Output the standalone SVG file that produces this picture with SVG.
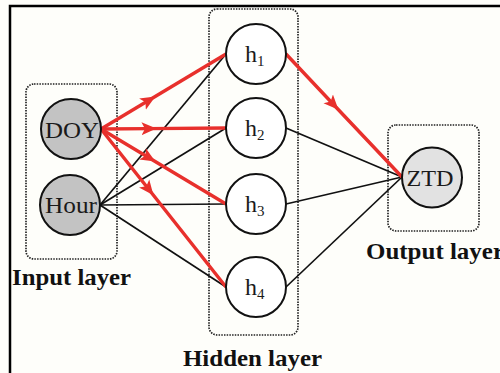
<svg xmlns="http://www.w3.org/2000/svg" width="500" height="373" viewBox="0 0 500 373">
<style>
.box{fill:none;stroke:#222;stroke-width:1.7;stroke-dasharray:1.5 1.2}
.blk{fill:none;stroke:#111;stroke-width:1.7}
.red{fill:none;stroke:#e8302c;stroke-width:3.4;marker-mid:url(#arr)}
.node{stroke:#111;stroke-width:2}
.in{fill:#c3c3c3}
.hid{fill:#ffffff}
.out{fill:#e2e2e2}
.lbl{font-family:"Liberation Serif","Times New Roman",serif;font-size:24px;fill:#1a1a1a}
.sub{font-family:"Liberation Serif","Times New Roman",serif;font-size:15px;fill:#1a1a1a}
.cap{font-family:"Liberation Serif","Times New Roman",serif;font-size:23px;font-weight:bold;fill:#111}
</style>
<defs>
<marker id="arr" markerUnits="userSpaceOnUse" markerWidth="16" markerHeight="14" refX="7" refY="7" orient="auto">
<path d="M0,0.5 L15,7 L0,13.5 L3.5,7 z" fill="#e8302c"/>
</marker>
</defs>
<rect x="0" y="0" width="500" height="373" fill="#fefefa"/>
<rect x="10" y="6" width="500" height="380" fill="none" stroke="#000" stroke-width="2.5"/>
<g id="layers">
<rect class="box" x="26" y="84" width="91" height="175" rx="8"/>
<rect class="box" x="209" y="9" width="89" height="326" rx="8"/>
<rect class="box" x="388" y="125" width="91" height="106" rx="8"/>
</g>
<g id="connectors">
<line class="blk" x1="100" y1="205" x2="226" y2="54"/>
<line class="blk" x1="100" y1="205" x2="226" y2="128"/>
<line class="blk" x1="100" y1="205" x2="226" y2="204"/>
<line class="blk" x1="100" y1="205" x2="226" y2="287"/>
<line class="blk" x1="286" y1="128" x2="402" y2="177"/>
<line class="blk" x1="286" y1="204" x2="402" y2="177"/>
<line class="blk" x1="286" y1="287" x2="402" y2="177"/>
<polyline class="red" points="101,129 148.5,100.5 226,54"/>
<polyline class="red" points="101,129 148.5,128.6 226,128"/>
<polyline class="red" points="101,129 148.5,157.5 226,204"/>
<polyline class="red" points="101,129 148.5,189 226,287"/>
<polyline class="red" points="286,54 333,104 402,177"/>
</g>
<g id="DOY"><circle class="node in" cx="71" cy="129" r="30"/><text class="lbl" x="72" y="138" text-anchor="middle" textLength="54" lengthAdjust="spacingAndGlyphs">DOY</text></g>
<g id="Hour"><circle class="node in" cx="70" cy="205" r="30"/><text class="lbl" x="71" y="213" text-anchor="middle" textLength="52" lengthAdjust="spacingAndGlyphs">Hour</text></g>
<g id="h1"><circle class="node hid" cx="256" cy="54" r="30"/><text class="lbl" x="245" y="62">h<tspan class="sub" dy="4">1</tspan></text></g>
<g id="h2"><circle class="node hid" cx="256" cy="128" r="30"/><text class="lbl" x="245" y="136">h<tspan class="sub" dy="4">2</tspan></text></g>
<g id="h3"><circle class="node hid" cx="256" cy="204" r="30"/><text class="lbl" x="245" y="212">h<tspan class="sub" dy="4">3</tspan></text></g>
<g id="h4"><circle class="node hid" cx="256" cy="287" r="30"/><text class="lbl" x="245" y="295">h<tspan class="sub" dy="4">4</tspan></text></g>
<g id="ZTD"><circle class="node out" cx="432" cy="177.5" r="30"/><text class="lbl" x="430" y="185.5" text-anchor="middle" textLength="47" lengthAdjust="spacingAndGlyphs">ZTD</text></g>
<g id="labels">
<text class="cap" x="12" y="285" textLength="119" lengthAdjust="spacingAndGlyphs">Input layer</text>
<text class="cap" x="183" y="366" textLength="139" lengthAdjust="spacingAndGlyphs">Hidden layer</text>
<text class="cap" x="366" y="259" textLength="138" lengthAdjust="spacingAndGlyphs">Output layer</text>
</g>
</svg>
